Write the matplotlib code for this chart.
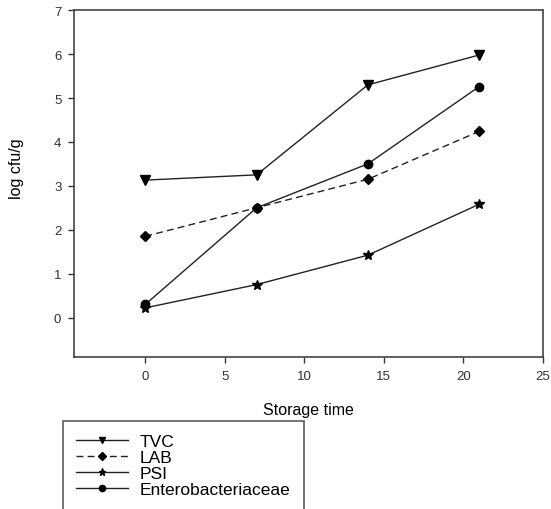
import matplotlib
matplotlib.use('Agg')
import matplotlib.pyplot as plt

plt.rcParams['font.family'] = ['Liberation Sans', 'DejaVu Sans']

days = [0, 7, 14, 21]
tvc = [3.13, 3.25, 5.30, 5.98]
lab = [1.85, 2.50, 3.15, 4.24]
psi = [0.22, 0.75, 1.42, 2.58]
entero = [0.30, 2.50, 3.50, 5.26]

names = ['TVC', 'LAB', 'PSI', 'Enterobacteriaceae']
xticks = [0, 5, 10, 15, 20, 25]
yticks = [0, 1, 2, 3, 4, 5, 6, 7]

fig = plt.figure(figsize=(5.51, 5.10), dpi=100)
ax = fig.add_axes([0.134, 0.298, 0.851, 0.680])

lw = 1.0
ax.plot(days, tvc, '-', color='#222222', lw=lw, marker='v', ms=6.5, mfc='black', mec='black', label=names[0])
ax.plot(days, lab, '--', color='#222222', lw=lw, dashes=(5, 3), marker='D', ms=5.5, mfc='black', mec='black', label=names[1])
ax.plot(days, psi, '-', color='#222222', lw=lw, marker='*', ms=7, mfc='black', mec='black', label=names[2])
ax.plot(days, entero, '-', color='#222222', lw=lw, marker='o', ms=6, mfc='black', mec='black', label=names[3])

ax.set_xlim(-4.5, 25)
ax.set_ylim(-0.9, 7)
ax.set_xticks(xticks)
ax.set_yticks(yticks)
ax.tick_params(direction='out', length=4, width=1, labelsize=9.5, colors='#333333', pad=5)
for s in ax.spines.values():
    s.set_linewidth(1.2)
    s.set_color('#444444')

ax.set_xlabel('Storage time', fontsize=11.5, va='center')
ax.xaxis.set_label_coords(0.5, -0.15)
ax.set_ylabel('log cfu/g', fontsize=11.5, va='center')
ax.yaxis.set_label_coords(-0.122, 0.547)

# legend sits below the axes, box runs off the bottom edge
leg = fig.legend(loc='upper left', bbox_to_anchor=(0.114, 0.173), frameon=True, fancybox=False,
                 edgecolor='#333333', fontsize=12.5, handlelength=3.0, labelspacing=0.05,
                 borderpad=0.75, handletextpad=0.7, borderaxespad=0, markerscale=0.75)
leg.get_frame().set_linewidth(1.2)

fig.savefig('out.png', dpi=100)
